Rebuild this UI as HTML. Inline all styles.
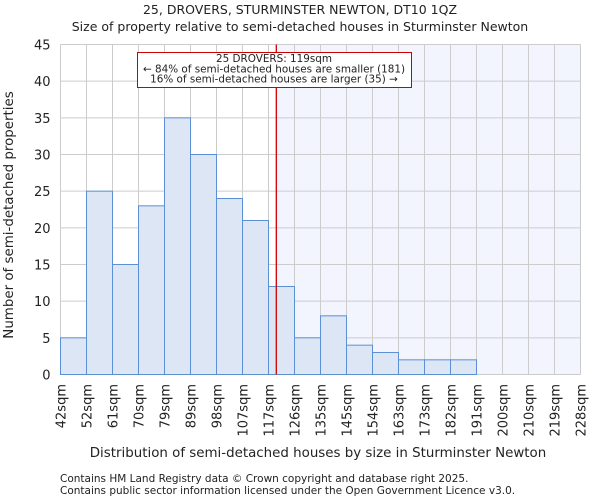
<!DOCTYPE html>
<html><head><meta charset="utf-8"><style>
body{margin:0;background:#fff;font-family:"DejaVu Sans","Liberation Sans",sans-serif;}
svg text{font-family:"DejaVu Sans","Liberation Sans",sans-serif;fill:#222;}
</style></head><body>
<svg id="c" width="600" height="500" xmlns="http://www.w3.org/2000/svg">
<text x="300" y="14" text-anchor="middle" font-size="12.5">25, DROVERS, STURMINSTER NEWTON, DT10 1QZ</text>
<text x="300" y="31" text-anchor="middle" font-size="12.5">Size of property relative to semi-detached houses in Sturminster Newton</text>
<g id="plot"></g>
<text x="318" y="457" text-anchor="middle" font-size="13.4">Distribution of semi-detached houses by size in Sturminster Newton</text>
<text transform="translate(13,215) rotate(-90)" text-anchor="middle" font-size="13.4">Number of semi-detached properties</text>
<text x="60" y="482" font-size="10.5">Contains HM Land Registry data © Crown copyright and database right 2025.</text>
<text x="60" y="494" font-size="10.5">Contains public sector information licensed under the Open Government Licence v3.0.</text>
</svg>
<script>
const categories=["42sqm","52sqm","61sqm","70sqm","79sqm","89sqm","98sqm","107sqm","117sqm","126sqm","135sqm","145sqm","154sqm","163sqm","173sqm","182sqm","191sqm","200sqm","210sqm","219sqm","228sqm"];
const counts=[5,25,15,23,35,30,24,21,12,5,8,4,3,2,2,2,0,0,0,0];
const yTicks=[0,5,10,15,20,25,30,35,40,45];
const propertyBinPos=8.3;
const ns="http://www.w3.org/2000/svg";
const L=60.5,R=580.5,T=44.5,B=374.5,nb=counts.length;
const xs=i=>L+(R-L)*i/nb;
const ys=v=>B-(B-T)*v/45;
const g=document.getElementById('plot');
function mk(t,a,p){const e=document.createElementNS(ns,t);for(const k in a)e.setAttribute(k,a[k]);(p||g).appendChild(e);return e;}
const px=xs(propertyBinPos);
let e=mk('rect',{x:px,y:T,width:R-px,height:B-T,fill:'#f2f5fd'});


for(let i=0;i<=nb;i++){e=mk('line',{x1:xs(i),x2:xs(i),y1:T,y2:B,stroke:'#cccccc','stroke-width':1});

}
yTicks.forEach(v=>{e=mk('line',{x1:L,x2:R,y1:ys(v),y2:ys(v),stroke:'#cccccc','stroke-width':1});


e=mk('text',{x:L-10,y:ys(v)+5,'text-anchor':'end','font-size':13});e.textContent=v;

});
counts.forEach((c,i)=>{if(c<=0)return;e=mk('rect',{x:xs(i),y:ys(c),width:xs(i+1)-xs(i),height:B-ys(c),fill:'#dce6f4',stroke:'#5b8fd6','stroke-width':1});

});
categories.forEach((c,i)=>{e=mk('text',{transform:`translate(${xs(i)+5},384) rotate(-90)`,'text-anchor':'end','font-size':13});e.textContent=c;

});
e=mk('line',{x1:px,x2:px,y1:T,y2:B,stroke:'#cc0000','stroke-width':1.3});


e=mk('rect',{x:137.5,y:52.5,width:274,height:35,fill:'#fff',stroke:'#cc0000','stroke-width':1});


["25 DROVERS: 119sqm","← 84% of semi-detached houses are smaller (181)","16% of semi-detached houses are larger (35) →"].forEach((t,k)=>{
e=mk('text',{x:274,y:62+k*10.3,'text-anchor':'middle','font-size':10.4});e.textContent=t;

});
</script>
</body></html>
